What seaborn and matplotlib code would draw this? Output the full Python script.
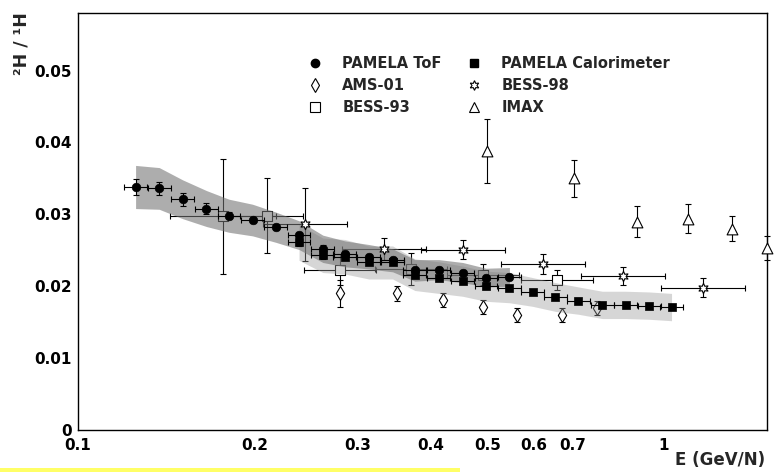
import numpy as np
import pandas as pd
import matplotlib
matplotlib.use("Agg")
import matplotlib.pyplot as plt
import seaborn as sns
from matplotlib.lines import Line2D
from matplotlib.patches import Rectangle
from matplotlib.ticker import FixedLocator, FixedFormatter, MultipleLocator

# ---------------- data ----------------
# PAMELA ToF
E_tof = np.array([0.1254, 0.1376, 0.1508, 0.1657, 0.1810, 0.1986, 0.2177, 0.2384, 0.2618,
                  0.2855, 0.3137, 0.3444, 0.3759, 0.4130, 0.4535, 0.4970, 0.5450])
R_tof = np.array([0.0338, 0.0336, 0.0321, 0.0308, 0.0298, 0.0292, 0.0282, 0.0271, 0.0252,
                  0.0245, 0.0241, 0.0236, 0.0222, 0.0223, 0.0219, 0.0212, 0.0213])
stat_tof = np.array([0.0011, 0.0009, 0.0009, 0.0008, 0.0005, 0.0004, 0.0004, 0.0005, 0.0005,
                     0.0004, 0.0004, 0.0004, 0.0004, 0.0004, 0.0004, 0.0004, 0.0004])
sys_tof = np.array([0.0030, 0.0029, 0.0027, 0.0025, 0.0023, 0.0022, 0.0021, 0.0020, 0.0019,
                    0.0018, 0.0017, 0.0016, 0.0015, 0.0014, 0.0014, 0.0013, 0.0013])
binf_tof = 1.046

# PAMELA Calorimeter
E_cal = np.array([0.2384, 0.2618, 0.2855, 0.3137, 0.3444, 0.3759, 0.4130, 0.4535, 0.4970,
                  0.5450, 0.5970, 0.6530, 0.7146, 0.7849, 0.8604, 0.9439, 1.0307])
R_cal = np.array([0.0261, 0.0243, 0.0241, 0.0233, 0.0233, 0.0216, 0.0212, 0.0207, 0.0200,
                  0.0198, 0.0192, 0.0185, 0.0180, 0.0174, 0.0174, 0.0173, 0.0171])
stat_cal = np.array([0.0005, 0.0005, 0.0004, 0.0004, 0.0004, 0.0004, 0.0004, 0.0004, 0.0004,
                     0.0003, 0.0003, 0.0003, 0.0003, 0.0003, 0.0003, 0.0003, 0.0003])
sys_cal = np.array([0.0025, 0.0024, 0.0024, 0.0023, 0.0023, 0.0022, 0.0022, 0.0021, 0.0021,
                    0.0021, 0.0020, 0.0020, 0.0019, 0.0019, 0.0019, 0.0019, 0.0019])
binf_cal = 1.046

# AMS-01
E_ams = np.array([0.2800, 0.3499, 0.4201, 0.4905, 0.5619, 0.6691, 0.7678])
R_ams = np.array([0.0190, 0.0190, 0.0181, 0.0171, 0.0160, 0.0160, 0.0170])
err_ams = np.array([0.0019, 0.0010, 0.0010, 0.0010, 0.0010, 0.0010, 0.0010])

# BESS-93
E_b93 = np.array([0.1768, 0.2099, 0.2800, 0.3697, 0.4905, 0.6577])
R_b93 = np.array([0.0297, 0.0298, 0.0223, 0.0224, 0.0216, 0.0209])
err_b93 = np.array([0.0080, 0.0052, 0.0022, 0.0022, 0.0015, 0.0014])
binf_b93 = np.array([1.2315, 1.152, 1.152, 1.152, 1.152, 1.152])

# BESS-98
E_b98 = np.array([0.2440, 0.3328, 0.4545, 0.6209, 0.8513, 1.1643])
R_b98 = np.array([0.0286, 0.0252, 0.0251, 0.0231, 0.0214, 0.0198])
err_b98 = np.array([0.0051, 0.0015, 0.0013, 0.0014, 0.0013, 0.0013])
binf_b98 = 1.1795

# IMAX
E_imax = np.array([0.4995, 0.7023, 0.9004, 1.1004, 1.3050, 1.5010])
R_imax = np.array([0.0388, 0.0350, 0.0290, 0.0294, 0.0280, 0.0253])
err_imax = np.array([0.0044, 0.0026, 0.0022, 0.0020, 0.0017, 0.0017])

legend_labels = ["PAMELA ToF", "AMS-01", "BESS-93", "PAMELA Calorimeter", "BESS-98", "IMAX"]
y_major = [0, 0.01, 0.02, 0.03, 0.04, 0.05]
y_labels = ["0", "0.01", "0.02", "0.03", "0.04", "0.05"]
x_major = [0.1, 1]
x_major_labels = ["0.1", "1"]
x_minor = [0.2, 0.3, 0.4, 0.5, 0.6, 0.7, 0.8, 0.9]
x_minor_labels = ["0.2", "0.3", "0.4", "0.5", "0.6", "0.7", "", ""]

# ---------------- style ----------------
sns.set_theme(style="white")
plt.rcParams["font.family"] = ["DejaVu Sans"]
plt.rcParams["font.weight"] = "bold"

W, H = 774, 472
fig = plt.figure(figsize=(W / 100, H / 100), dpi=100)
fig.patch.set_facecolor("white")
ax = fig.add_axes([78 / W, 42 / H, 689 / W, 417 / H])
ax.set_facecolor("white")
ax.set_xscale("log")
ax.set_xlim(0.1, 1.5)
ax.set_ylim(0, 0.058)

def xerr(E, f):
    return [E - E / f, E * f - E]

ekw = dict(fmt="none", ecolor="black", elinewidth=0.8, capsize=2.2, capthick=0.8)

# other experiments (drawn below the PAMELA bands)
ax.errorbar(E_ams, R_ams, yerr=err_ams, zorder=2, **ekw)
ax.errorbar(E_b93, R_b93, xerr=xerr(E_b93, binf_b93), yerr=err_b93, zorder=2, **ekw)
ax.errorbar(E_b98, R_b98, xerr=xerr(E_b98, binf_b98), yerr=err_b98, zorder=2, **ekw)
eb = ax.errorbar(E_imax, R_imax, yerr=err_imax, zorder=2, **ekw)
for art in eb.lines[1] + eb.lines[2]:
    art.set_clip_on(False)

star6 = (6, 1, 0)
sns.scatterplot(x=E_b93, y=R_b93, marker="s", s=42, color="white", edgecolor="black",
                linewidth=0.8, ax=ax, zorder=2.5)
sns.scatterplot(x=E_ams, y=R_ams, marker="d", s=50, color="white", edgecolor="black",
                linewidth=0.8, ax=ax, zorder=2.5)

# systematic bands (semi-transparent, like ROOT stipple fill)
ax.fill_between(E_cal, R_cal - sys_cal, R_cal + sys_cal, color="#9a9a9a", alpha=0.4, lw=0, zorder=3)
ax.fill_between(E_tof, R_tof - sys_tof, R_tof + sys_tof, color="#737373", alpha=0.58, lw=0, zorder=3.1)

sns.scatterplot(x=E_b98, y=R_b98, marker=star6, s=55, color="white", edgecolor="black",
                linewidth=0.8, ax=ax, zorder=3.5)
sns.scatterplot(x=E_imax, y=R_imax, marker="^", s=60, color="white", edgecolor="black",
                linewidth=0.8, ax=ax, zorder=3.5, clip_on=False)

# PAMELA
ax.errorbar(E_tof, R_tof, xerr=xerr(E_tof, binf_tof), yerr=stat_tof, zorder=4, **ekw)
ax.errorbar(E_cal, R_cal, xerr=xerr(E_cal, binf_cal), yerr=stat_cal, zorder=4, **ekw)
sns.scatterplot(x=E_tof, y=R_tof, marker="o", s=38, color="black", edgecolor="black",
                linewidth=0.5, ax=ax, zorder=5)
sns.scatterplot(x=E_cal, y=R_cal, marker="s", s=28, color="black", edgecolor="black",
                linewidth=0.5, ax=ax, zorder=5)

# axes / ticks
for sp in ax.spines.values():
    sp.set_color("black")
    sp.set_linewidth(1.0)

ax.yaxis.set_major_locator(FixedLocator(y_major))
ax.yaxis.set_major_formatter(FixedFormatter(y_labels))
ax.yaxis.set_minor_locator(MultipleLocator(0.002))
ax.xaxis.set_major_locator(FixedLocator(x_major))
ax.xaxis.set_major_formatter(FixedFormatter(x_major_labels))
ax.xaxis.set_minor_locator(FixedLocator(x_minor))
ax.xaxis.set_minor_formatter(FixedFormatter(x_minor_labels))

ax.tick_params(axis="both", which="both", direction="in", top=False, right=False,
               color="black", labelcolor="black", width=0.8, labelsize=11)
ax.tick_params(axis="y", which="major", length=15, pad=4.5)
ax.tick_params(axis="y", which="minor", length=8)
ax.tick_params(axis="x", which="major", length=9.5, pad=5.5)
ax.tick_params(axis="x", which="minor", length=5.4, pad=5.5, labelsize=11)
for lab in ax.get_xticklabels(which="both") + ax.get_yticklabels():
    lab.set_fontweight("bold")
ax.yaxis.get_major_ticks()[5].tick1line.set_markersize(8)

ax.set_xlabel("")
ax.set_ylabel("")
fig.text(21 / W, 1 - 12 / H, "\u00b2H / \u00b9H", rotation=90, ha="center", va="top",
         fontsize=12.5, fontweight="bold")
fig.text(765 / W, 1 - 465 / H, "E (GeV/N)", ha="right", va="baseline",
         fontsize=12, fontweight="bold")

# legend
handles = [
    Line2D([], [], ls="none", marker="o", ms=6, mfc="black", mec="black"),
    Line2D([], [], ls="none", marker="d", ms=7, mfc="white", mec="black", mew=0.8),
    Line2D([], [], ls="none", marker="s", ms=6.5, mfc="white", mec="black", mew=0.8),
    Line2D([], [], ls="none", marker="s", ms=5.5, mfc="black", mec="black"),
    Line2D([], [], ls="none", marker=star6, ms=7, mfc="white", mec="black", mew=0.8),
    Line2D([], [], ls="none", marker="^", ms=7, mfc="white", mec="black", mew=0.8),
]
leg = ax.legend(handles, legend_labels, ncol=2, loc="upper left",
                bbox_to_anchor=(305 / W, 1 - 56 / H), bbox_transform=fig.transFigure,
                frameon=False, borderpad=0, borderaxespad=0, handlelength=1.4,
                handletextpad=1.15, columnspacing=1.55, labelspacing=0.47,
                prop=dict(size=10.5, weight="bold"))

# yellow highlight strip
fig.add_artist(Rectangle((0, 0), 460 / W, 4.5 / H, transform=fig.transFigure,
                         facecolor="#ffff66", edgecolor="none"))

fig.savefig("out.png", dpi=100)
